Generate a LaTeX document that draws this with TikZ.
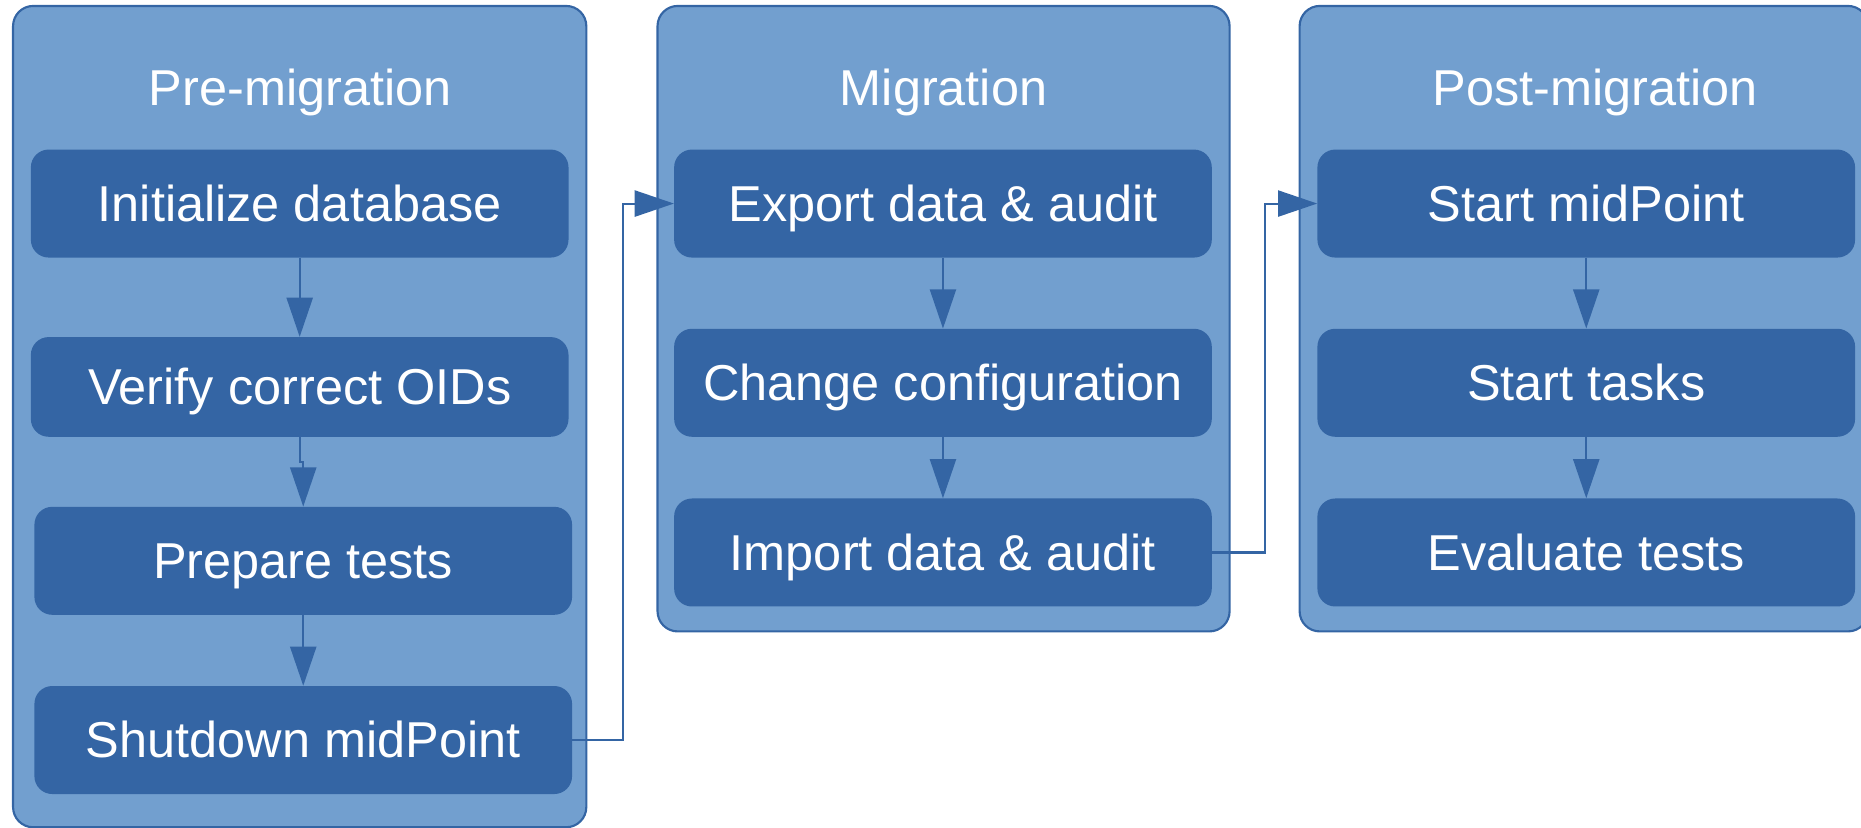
\documentclass[tikz,border=0pt]{standalone}
\usepackage{fontspec}
\setmainfont{Liberation Sans}
\usetikzlibrary{arrows.meta}
\definecolor{lightblue}{HTML}{729FCF}
\definecolor{darkblue}{HTML}{3465A4}
\begin{document}
\begin{tikzpicture}[x=1pt,y=-1pt,
  container/.style={draw=darkblue, fill=lightblue, line width=1.8pt, rounded corners=17pt, inner sep=0pt},
  title/.style={text=white, font=\fontsize{42.5}{50}\selectfont, anchor=base, inner sep=0pt},
  stepbox/.style={fill=darkblue, draw=none, rounded corners=15pt, text=white,
    font=\fontsize{42.5}{50}\selectfont, minimum width=453pt, minimum height=91pt,
    inner sep=0pt, text height=30pt, text depth=0pt},
  arr/.style={draw=darkblue, line width=1.7pt, -{Triangle[length=33pt,width=22pt]}},
  conn/.style={draw=darkblue, line width=1.7pt}
]
\useasboundingbox (0,0) rectangle (1568,697);
\clip (0,0) rectangle (1568,697);
% containers
\node[container, minimum width=483pt, minimum height=692pt] (c1) at (252.5,351) {};
\node[container, minimum width=482pt, minimum height=527pt] (c2) at (795,268.5) {};
\node[container, minimum width=479pt, minimum height=527pt] (c3) at (1334.5,268.5) {};
% titles
\node[title] (t1) at (253,88.5) {Pre-migration};
\node[title] (t2) at (795,88.5) {Migration};
\node[title] (t3) at (1344,88.5) {Post-migration};
% column 1
\node[stepbox] (init) at (252.5,171.5) {Initialize database};
\node[stepbox, minimum height=84pt] (verify) at (252.5,326) {Verify correct OIDs};
\node[stepbox] (prepare) at (255.5,472.5) {Prepare tests};
\node[stepbox] (shutdown) at (255.5,623.5) {Shutdown midPoint};
% column 2
\node[stepbox] (export) at (794.5,171.5) {Export data \& audit};
\node[stepbox] (change) at (794.5,322.5) {Change configuration};
\node[stepbox] (import) at (794.5,465.5) {Import data \& audit};
% column 3
\node[stepbox] (startmp) at (1336.5,171.5) {Start midPoint};
\node[stepbox] (tasks) at (1336.5,322.5) {Start tasks};
\node[stepbox] (evaluate) at (1336.5,465.5) {Evaluate tests};
% arrows
\draw[arr] (init.south) -- (verify.north);
\draw[arr] (verify.south) -- ++(0,21) -| (prepare.north);
\draw[arr] (prepare.south) -- (shutdown.north);
\draw[arr] (shutdown.east) -- ++(43,0) |- (export.west);
\draw[arr] (export.south) -- (change.north);
\draw[arr] (change.south) -- (import.north);
\draw[arr] (import.east) -- ++(45,0) |- (startmp.west);
\draw[arr] (startmp.south) -- (tasks.north);
\draw[arr] (tasks.south) -- (evaluate.north);
\end{tikzpicture}
\end{document}
